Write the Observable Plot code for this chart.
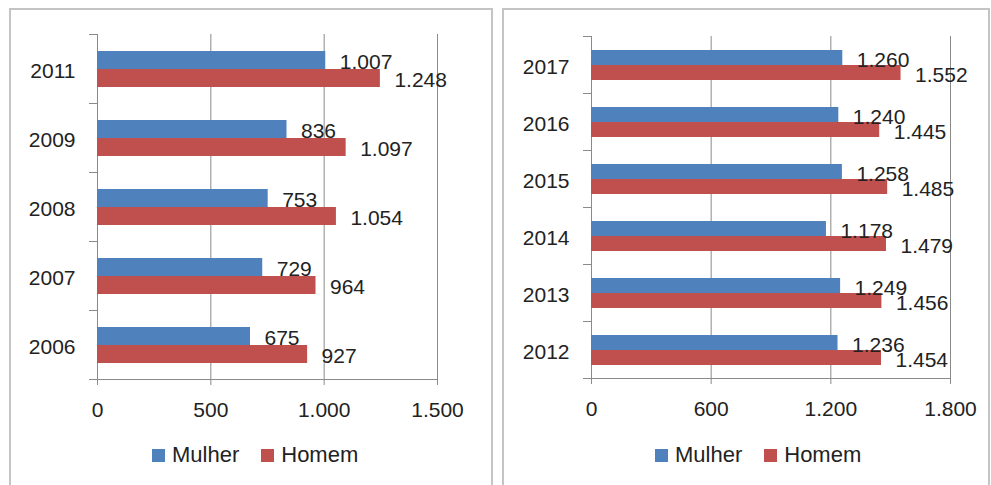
<!DOCTYPE html>
<html><head><meta charset="utf-8">
<script src="https://cdn.jsdelivr.net/npm/d3@7"></script>
<script src="https://cdn.jsdelivr.net/npm/@observablehq/plot@0.6"></script>
<style>
body{margin:0;background:#fff;}
#root{position:relative;width:991px;height:485px;overflow:hidden;font-family:"Liberation Sans",Arial,sans-serif;color:#222;background:#fff;}
.panel{position:absolute;border:2px solid #c4c4c4;box-sizing:border-box;}
.chart{position:absolute;top:0;}
.legend{position:absolute;display:flex;align-items:center;font-size:22px;color:#222;white-space:nowrap;height:24px;}
.sw{display:inline-block;width:13px;height:13px;margin-right:7px;}
.gap{display:inline-block;width:22px;}
</style></head><body><div id="root"></div>
<script>
// ---- data ----
const leftYears = ["2011","2009","2008","2007","2006"];
const leftMulher = [1007, 836, 753, 729, 675];
const leftHomem = [1248, 1097, 1054, 964, 927];
const leftTicks = [0, 500, 1000, 1500];

const rightYears = ["2017","2016","2015","2014","2013","2012"];
const rightMulher = [1260, 1240, 1258, 1178, 1249, 1236];
const rightHomem = [1552, 1445, 1485, 1479, 1456, 1454];
const rightTicks = [0, 600, 1200, 1800];

const series = ["Mulher", "Homem"];
const colors = ["#4F81BD", "#C0504D"];

const fmt = d3.formatLocale({decimal: ",", thousands: ".", grouping: [3], currency: ["R$", ""]}).format(",d");

function rows(years, m, h) {
  return years.flatMap((y, i) => [
    {year: y, sex: series[0], value: m[i]},
    {year: y, sex: series[1], value: h[i]}
  ]);
}

function chart({years, m, h, ticks, width, marginLeft, marginRight}) {
  const data = rows(years, m, h);
  const plotW = width - marginLeft - marginRight;
  const grid = "#8a8a8a";
  return Plot.plot({
    width, height: 485, marginLeft, marginRight, marginTop: 33, marginBottom: 105,
    style: {fontFamily: '"Liberation Sans", Arial, sans-serif', fontSize: "21px", color: "#222", background: "transparent", overflow: "visible"},
    x: {domain: [ticks[0], ticks[ticks.length - 1]], axis: null},
    y: {domain: series, paddingInner: 0, paddingOuter: 0.86, axis: null},
    fy: {domain: years, padding: 0, axis: null},
    color: {domain: series, range: colors},
    marks: [
      Plot.ruleX(ticks.slice(1), {stroke: grid}),
      Plot.ruleX([ticks[0]], {stroke: grid}),
      Plot.frame({anchor: "top", stroke: grid, insetLeft: -8, insetRight: plotW}),
      Plot.frame({anchor: "bottom", stroke: grid, insetLeft: -8, facetAnchor: "bottom"}),
      Plot.barX(data, {x: "value", y: "sex", fy: "year", fill: "sex"}),
      Plot.text(data, {x: "value", y: "sex", fy: "year", text: d => fmt(d.value), textAnchor: "start", dx: 14, dy: 2, fill: "#222", fontSize: 21}),
      Plot.axisX({ticks, tickFormat: fmt, tickSize: 6, tickPadding: 17, stroke: grid, fill: "#222", fontSize: 21, label: null}),
      Plot.axisFy({anchor: "left", tickSize: 0, tickPadding: 22, dy: 2, fill: "#222", fontSize: 21, label: null})
    ]
  });
}

const root = document.getElementById("root");

function panel(left, width) {
  const p = document.createElement("div");
  p.className = "panel";
  p.style.left = left + "px"; p.style.top = "8px";
  p.style.width = width + "px"; p.style.height = "500px";
  root.appendChild(p);
}
panel(9, 484);
panel(502, 488);

function place(svg, left) {
  const w = document.createElement("div");
  w.className = "chart";
  w.style.left = left + "px";
  w.appendChild(svg);
  root.appendChild(w);
}
place(chart({years: leftYears, m: leftMulher, h: leftHomem, ticks: leftTicks, width: 495, marginLeft: 97, marginRight: 58}), 0);
place(chart({years: rightYears, m: rightMulher, h: rightHomem, ticks: rightTicks, width: 496, marginLeft: 96, marginRight: 41}), 495);

function legend(left) {
  const l = document.createElement("div");
  l.className = "legend";
  l.style.left = left + "px"; l.style.top = "443px";
  series.forEach((s, i) => {
    if (i > 0) { const g = document.createElement("span"); g.className = "gap"; l.appendChild(g); }
    const sw = document.createElement("span"); sw.className = "sw"; sw.style.background = colors[i];
    l.appendChild(sw);
    const t = document.createElement("span"); t.textContent = s; l.appendChild(t);
  });
  root.appendChild(l);
}
legend(152);
legend(655);
</script></body></html>
